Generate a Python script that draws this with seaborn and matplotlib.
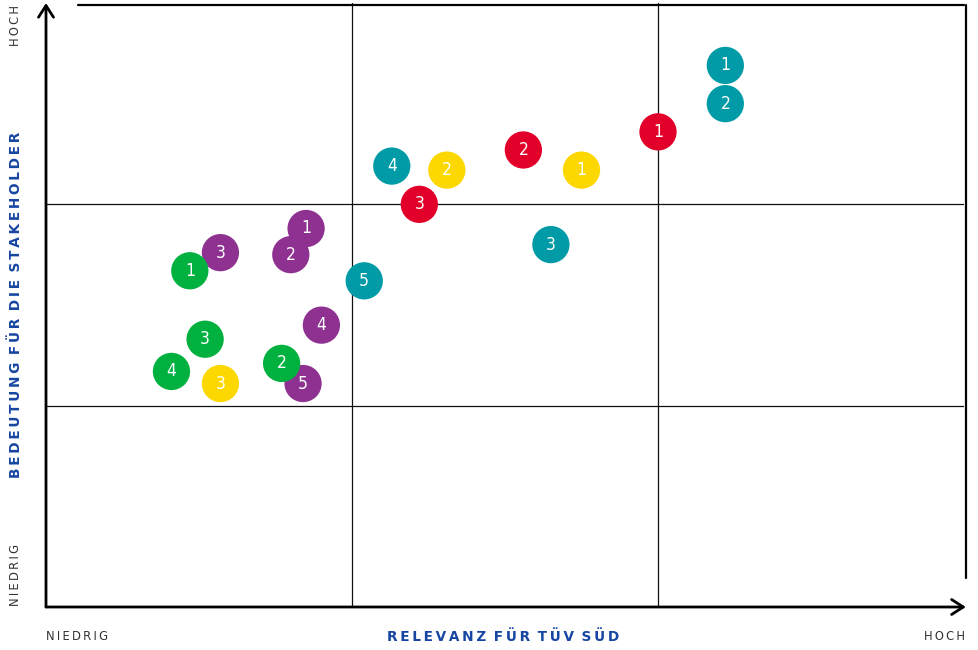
import matplotlib
matplotlib.use("Agg")
import matplotlib.pyplot as plt
import seaborn as sns
import pandas as pd

# Materiality matrix: position of each topic (0-3 scale on both axes)
groups = ["teal"] * 5 + ["red"] * 3 + ["yellow"] * 3 + ["purple"] * 5 + ["green"] * 4
numbers = [1, 2, 3, 4, 5, 1, 2, 3, 1, 2, 3, 1, 2, 3, 4, 5, 1, 2, 3, 4]
relevance = [2.22, 2.22, 1.65, 1.13, 1.04,
             2.00, 1.56, 1.22,
             1.75, 1.31, 0.57,
             0.85, 0.80, 0.57, 0.90, 0.84,
             0.47, 0.77, 0.52, 0.41]
importance = [2.69, 2.50, 1.80, 2.19, 1.62,
              2.36, 2.27, 2.00,
              2.17, 2.17, 1.11,
              1.88, 1.75, 1.76, 1.40, 1.11,
              1.67, 1.21, 1.33, 1.17]

palette = {"teal": "#009ba6", "red": "#e2002a", "yellow": "#fcd800",
           "purple": "#8e3190", "green": "#00b140"}
label_blue = "#1746a2"
axis_grey = "#333333"

df = pd.DataFrame({"group": groups, "num": numbers,
                   "x": relevance, "y": importance})

sns.set_theme(style="white")
plt.rcParams["font.family"] = ["DejaVu Sans"]

fig = plt.figure(figsize=(9.79, 6.5), dpi=100)
W, H = 979, 650
x0, x1, y0, y1 = 46, 964, 607, 3
ax = fig.add_axes([x0 / W, (H - y0) / H, (x1 - x0) / W, (y0 - y1) / H])
ax.set_xlim(0, 3)
ax.set_ylim(0, 3)
for s in ax.spines.values():
    s.set_visible(False)
ax.set_xticks([])
ax.set_yticks([])

# quadrant grid
for v in (1, 2):
    ax.axvline(v, color="#111111", lw=0.9, zorder=1)
    ax.axhline(v, color="#111111", lw=0.9, zorder=1)

# frame: top and right thin lines
top_y = 1 - 2 / (y0 - y1)
ax.plot([32 / (x1 - x0), 1.0], [top_y, top_y], transform=ax.transAxes,
        color="black", lw=1.6, clip_on=False, zorder=1)
ax.plot([1.002, 1.002], [top_y, 29 / (y0 - y1)], transform=ax.transAxes,
        color="black", lw=1.6, clip_on=False, zorder=1)

# axes with arrows
arrow = dict(arrowstyle="->,head_length=0.7,head_width=0.45", lw=2,
             color="black", shrinkA=0, shrinkB=0)
ax.annotate("", xy=(0, 1.0), xytext=(0, 0), xycoords="axes fraction",
            arrowprops=arrow, annotation_clip=False)
ax.annotate("", xy=(1.002, 0), xytext=(0, 0), xycoords="axes fraction",
            arrowprops=arrow, annotation_clip=False)

sns.scatterplot(data=df, x="x", y="y", hue="group", palette=palette,
                s=720, edgecolor="none", legend=False, ax=ax, zorder=3,
                clip_on=False)
ax.set_xlabel("")
ax.set_ylabel("")

for _, r in df.iterrows():
    ax.text(r["x"], r["y"], str(r["num"]), color="white", fontsize=12.5,
            ha="center", va="center", zorder=4,
            family="DejaVu Sans", fontstretch="condensed")


def spaced(t, gap=" "):
    return gap.join("\u2009".join(w) for w in t.split(" "))


fig.text(503 / W, 1 - 637 / H, spaced("RELEVANZ FÜR TÜV SÜD", " \u2009"),
         color=label_blue, fontsize=9.8, fontweight="bold",
         ha="center", va="center")
fig.text(16 / W, 1 - 305 / H, spaced("BEDEUTUNG FÜR DIE STAKEHOLDER", " \u2009"),
         color=label_blue, fontsize=9.8, fontweight="bold",
         ha="center", va="center", rotation=90)

small = dict(color=axis_grey, fontsize=8.3, va="center")
fig.text(46 / W, 1 - 637 / H, spaced("NIEDRIG"), ha="left", **small)
fig.text(965 / W, 1 - 637 / H, spaced("HOCH"), ha="right", **small)
fig.text(16 / W, 1 - 575 / H, spaced("NIEDRIG"), ha="center",
         rotation=90, **small)
fig.text(16 / W, 1 - 26 / H, spaced("HOCH"), ha="center",
         rotation=90, **small)

fig.savefig("out.png", dpi=100)
